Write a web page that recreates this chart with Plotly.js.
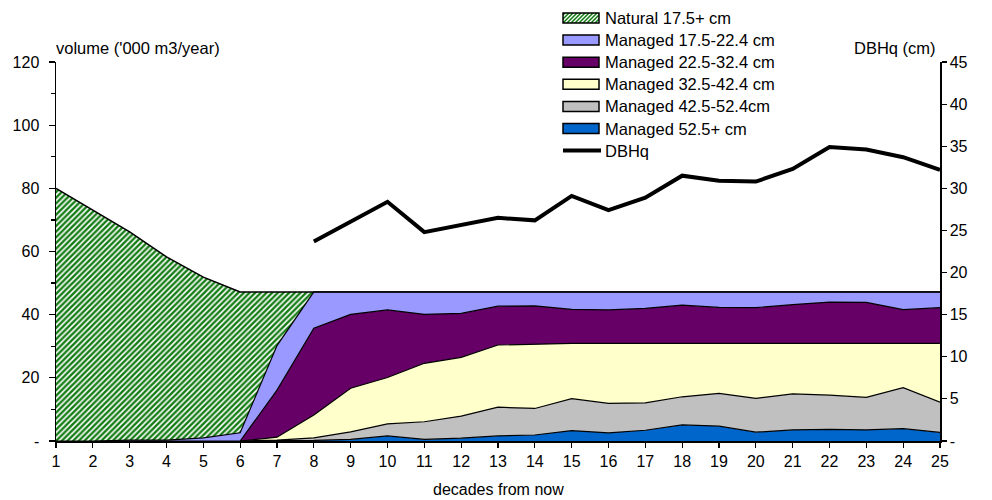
<!DOCTYPE html>
<html>
<head>
<meta charset="utf-8">
<script src="https://cdn.plot.ly/plotly-3.0.1.min.js"></script>
<style>
  html, body { margin: 0; padding: 0; background: #ffffff; }
  #chart { width: 992px; height: 500px; }
</style>
</head>
<body>
<div id="chart"></div>
<script>
// Harvest volume by diameter class ('000 m3/year) and quadratic mean diameter, per decade
const decades = [1, 2, 3, 4, 5, 6, 7, 8, 9, 10, 11, 12, 13, 14, 15, 16, 17, 18, 19, 20, 21, 22, 23, 24, 25];

const managed525  = [0, 0, 0, 0, 0, 0, 0, 0.2, 0.5, 1.6, 0.5, 0.9, 1.6, 1.9, 3.3, 2.6, 3.4, 5.1, 4.7, 2.8, 3.5, 3.7, 3.5, 3.9, 2.7];
const managed425  = [0, 0, 0, 0, 0, 0, 0.3, 0.8, 2.4, 3.8, 5.6, 7.0, 9.1, 8.4, 10.1, 9.3, 8.7, 8.9, 10.4, 10.7, 11.4, 10.8, 10.3, 13.0, 9.6];
const managed325  = [0, 0, 0, 0, 0, 0, 0.9, 7.2, 13.8, 14.7, 18.5, 18.6, 19.7, 20.4, 17.5, 19.0, 18.8, 16.9, 15.8, 17.4, 16.0, 16.4, 17.1, 14.0, 18.6];
const managed225  = [0, 0, 0, 0, 0, 0, 14.9, 27.5, 23.4, 21.4, 15.5, 13.9, 12.3, 12.1, 10.8, 10.6, 11.1, 12.1, 11.4, 11.3, 12.3, 13.1, 13.0, 10.7, 11.3];
const managed175  = [0, 0, 0.3, 0.3, 1.0, 2.6, 14.1, 11.5, 7.1, 5.7, 7.1, 6.8, 4.5, 4.4, 5.5, 5.7, 5.2, 4.2, 4.9, 5.0, 4.0, 3.2, 3.3, 5.6, 5.0];
const natural175  = [80, 73.2, 65.9, 58.0, 50.9, 44.6, 17.0, 0, 0, 0, 0, 0, 0, 0, 0, 0, 0, 0, 0, 0, 0, 0, 0, 0, 0];
const dbhq        = [null, null, null, null, null, null, null, 23.7, 26.0, 28.4, 24.8, 25.6, 26.5, 26.2, 29.1, 27.4, 28.9, 31.5, 30.9, 30.8, 32.3, 34.9, 34.6, 33.7, 32.2];

const volTicks = [0, 20, 40, 60, 80, 100, 120];
const volTickText = ['-', '20', '40', '60', '80', '100', '120'];
const volMinor = [10, 30, 50, 70, 90, 110];
const dbhTicks = [0, 5, 10, 15, 20, 25, 30, 35, 40, 45];
const dbhTickText = ['-', '5', '10', '15', '20', '25', '30', '35', '40', '45'];

const legendNames = ['Natural 17.5+ cm', 'Managed 17.5-22.4 cm', 'Managed 22.5-32.4 cm',
                     'Managed 32.5-42.4 cm', 'Managed 42.5-52.4cm', 'Managed 52.5+ cm', 'DBHq'];

const FONT = 'Liberation Sans, Arial, sans-serif';
const GREEN = '#157d15';
const COLORS = {
  m175: '#9999ff',
  m225: '#660066',
  m325: '#ffffcc',
  m425: '#c0c0c0',
  m525: '#0066cc'
};

// plot box in pixels
const L = 56, R = 940, T = 62, B = 441;
const px = v => (v - L) / (R - L);
const py = v => (B - v) / (B - T);

const edge = { color: '#000000', width: 1.2 };

function band(y, fill, extra) {
  return Object.assign({
    x: decades, y: y, type: 'scatter', mode: 'lines', stackgroup: 'vol',
    line: edge, fillcolor: fill, hoverinfo: 'skip', showlegend: false
  }, extra || {});
}

const traces = [
  band(managed525, COLORS.m525),
  band(managed425, COLORS.m425),
  band(managed325, COLORS.m325),
  band(managed225, COLORS.m225),
  band(managed175, COLORS.m175),
  band(natural175, '#ffffff', {
    fillpattern: { shape: '/', fgcolor: GREEN, bgcolor: '#ffffff', size: 4, solidity: 0.6 },
    line: { color: '#000000', width: 1.5 }
  }),
  {
    x: decades, y: dbhq, type: 'scatter', mode: 'lines', yaxis: 'y2',
    line: { color: '#000000', width: 4 }, connectgaps: false,
    hoverinfo: 'skip', showlegend: false
  }
];

// hand-drawn key above the plot
const shapes = [];
const annotations = [];
const keyX0 = 563, keyX1 = 599, keyTop = 18, keyStep = 22.1;
const swatchFill = ['hatch', COLORS.m175, COLORS.m225, COLORS.m325, COLORS.m425, COLORS.m525, 'line'];

legendNames.forEach((name, i) => {
  const cy = keyTop + i * keyStep;
  const y0 = cy - 5, y1 = cy + 5;
  const kind = swatchFill[i];
  if (kind === 'line') {
    shapes.push({ type: 'line', xref: 'paper', yref: 'paper',
      x0: px(keyX0), x1: px(keyX1 + 2), y0: py(cy), y1: py(cy),
      line: { color: '#000000', width: 4 } });
  } else if (kind === 'hatch') {
    shapes.push({ type: 'rect', xref: 'paper', yref: 'paper',
      x0: px(keyX0), x1: px(keyX1), y0: py(y1), y1: py(y0),
      fillcolor: GREEN, line: { width: 0 } });
    let d = '';
    for (let s = keyX0 - 10; s < keyX1; s += 4) {
      const xa = Math.max(s, keyX0), xb = Math.min(s + 10, keyX1);
      if (xb <= xa) continue;
      const ya = y1 - (xa - s), yb = y1 - (xb - s);
      d += 'M' + px(xa) + ',' + py(ya) + 'L' + px(xb) + ',' + py(yb);
    }
    shapes.push({ type: 'path', xref: 'paper', yref: 'paper', path: d,
      line: { color: '#ffffff', width: 1.3 } });
    shapes.push({ type: 'rect', xref: 'paper', yref: 'paper',
      x0: px(keyX0), x1: px(keyX1), y0: py(y1), y1: py(y0),
      fillcolor: 'rgba(0,0,0,0)', line: { color: '#000000', width: 1.5 } });
  } else {
    shapes.push({ type: 'rect', xref: 'paper', yref: 'paper',
      x0: px(keyX0), x1: px(keyX1), y0: py(y1), y1: py(y0),
      fillcolor: kind, line: { color: '#000000', width: 1.5 } });
  }
  annotations.push({ xref: 'paper', yref: 'paper', x: px(keyX1 + 4), y: py(cy),
    xanchor: 'left', yanchor: 'middle', showarrow: false, text: name,
    font: { family: FONT, size: 16.5, color: '#000000' } });
});

annotations.push(
  { xref: 'paper', yref: 'paper', x: px(54), y: py(48), xanchor: 'left', yanchor: 'middle',
    showarrow: false, text: "volume ('000 m3/year)", font: { family: FONT, size: 16.5, color: '#000000' } },
  { xref: 'paper', yref: 'paper', x: px(938), y: py(48), xanchor: 'right', yanchor: 'middle',
    showarrow: false, text: 'DBHq (cm)', font: { family: FONT, size: 16.5, color: '#000000' } },
  { xref: 'paper', yref: 'paper', x: px(498), y: py(489), xanchor: 'center', yanchor: 'middle',
    showarrow: false, text: 'decades from now', font: { family: FONT, size: 16, color: '#000000' } }
);

const tickFont = { family: FONT, size: 16, color: '#000000' };

const layout = {
  width: 992, height: 500,
  margin: { l: L, r: 992 - R, t: T, b: 500 - B, pad: 0 },
  paper_bgcolor: '#ffffff', plot_bgcolor: '#ffffff',
  showlegend: false,
  font: { family: FONT, size: 16, color: '#000000' },
  xaxis: {
    range: [1, 25], tickmode: 'array', tickvals: decades,
    ticks: 'outside', ticklen: 5, tickwidth: 1.2, tickcolor: '#000000',
    showline: true, linecolor: '#000000', linewidth: 1.5,
    showgrid: false, zeroline: false, tickfont: tickFont, fixedrange: true
  },
  yaxis: {
    range: [0, 120], tickmode: 'array', tickvals: volTicks, ticktext: volTickText,
    ticks: 'outside', ticklen: 6, tickwidth: 1.2, tickcolor: '#000000', ticklabelstandoff: 6,
    minor: { tickmode: 'array', tickvals: volMinor, ticks: 'outside', ticklen: 4, tickwidth: 1.2, tickcolor: '#000000' },
    showline: true, linecolor: '#000000', linewidth: 1.5,
    showgrid: false, zeroline: false, tickfont: tickFont, fixedrange: true
  },
  yaxis2: {
    overlaying: 'y', side: 'right', anchor: 'x',
    range: [0, 45], tickmode: 'array', tickvals: dbhTicks, ticktext: dbhTickText,
    ticks: 'outside', ticklen: 5, tickwidth: 1.2, tickcolor: '#000000',
    showline: true, linecolor: '#000000', linewidth: 1.5,
    showgrid: false, zeroline: false, tickfont: tickFont, fixedrange: true
  },
  yaxis3: {
    overlaying: 'y', side: 'right', anchor: 'x',
    range: [0, 45], tickmode: 'array', tickvals: dbhTicks,
    ticks: 'inside', ticklen: 5, tickwidth: 1.2, tickcolor: '#000000',
    showticklabels: false, showline: false,
    showgrid: false, zeroline: false, fixedrange: true
  },
  shapes: shapes,
  annotations: annotations
};

Plotly.newPlot('chart', traces, layout, { staticPlot: true, displayModeBar: false });
</script>
</body>
</html>
